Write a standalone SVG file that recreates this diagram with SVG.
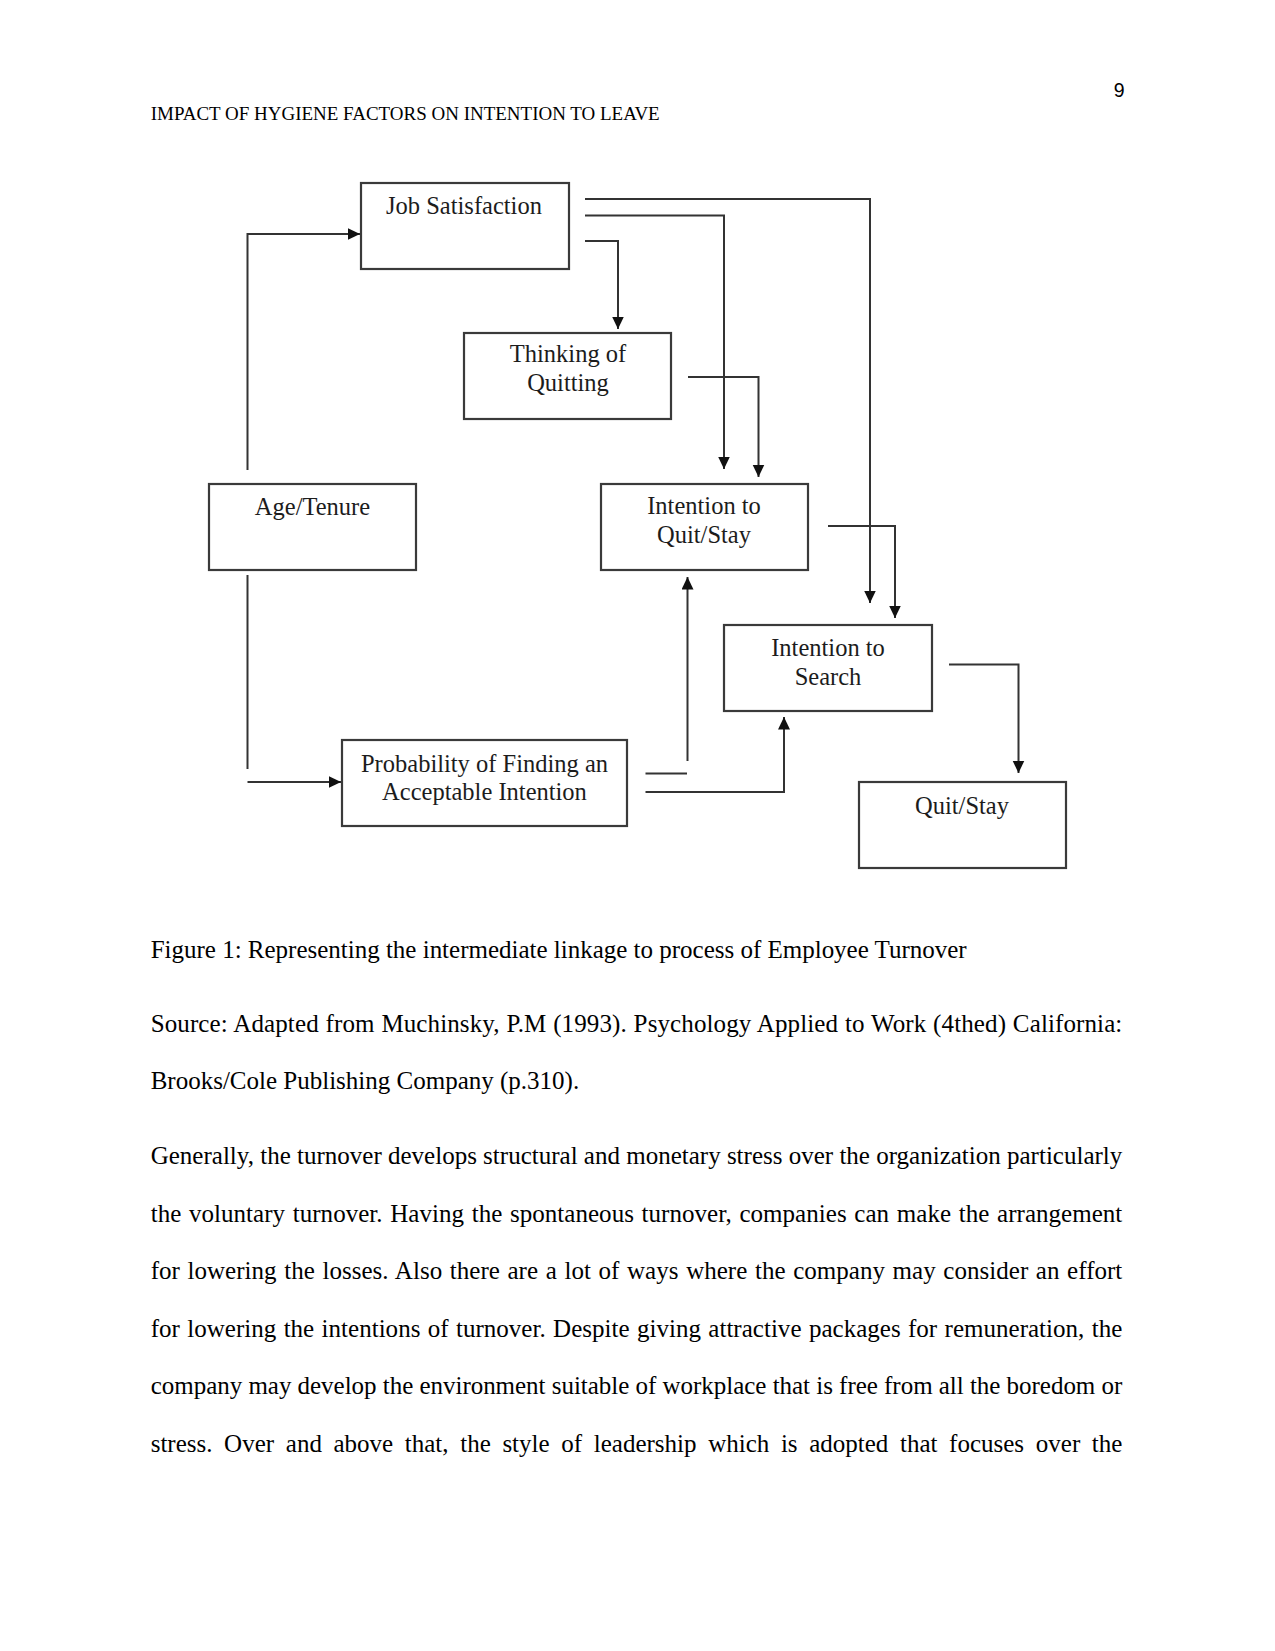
<svg xmlns="http://www.w3.org/2000/svg" width="1275" height="1651" viewBox="0 0 1275 1651">
<style>
.page{font-family:"Liberation Serif","Times New Roman",serif;fill:#000}
.body{font-size:25px}
.hdr{font-size:18.75px}
.pn{font-family:"Liberation Sans",Arial,sans-serif;font-size:19.5px;fill:#000}
.box{fill:#fff;stroke:#3a3a3a;stroke-width:2.2}
.lbl{font-family:"Liberation Serif","Times New Roman",serif;font-size:24.5px;fill:#1c1c1c;text-anchor:middle}
.con{fill:none;stroke:#333;stroke-width:2}
</style>
<defs>
<marker id="ah" markerUnits="userSpaceOnUse" markerWidth="14" markerHeight="13" refX="12.5" refY="6" orient="auto">
<path d="M0,0 L12.5,6 L0,12 z" fill="#111"/>
</marker>
</defs>
<rect x="0" y="0" width="1275" height="1651" fill="#fff"/>

<g id="page-header">
<text class="pn" x="1124.5" y="97" text-anchor="end">9</text>
<text class="page hdr" x="150.7" y="120" textLength="509" lengthAdjust="spacingAndGlyphs">IMPACT OF HYGIENE FACTORS ON INTENTION TO LEAVE</text>
</g>

<g id="connectors">
<polyline class="con" points="247.5,470 247.5,234 360,234" marker-end="url(#ah)"/>
<line class="con" x1="247.5" y1="575" x2="247.5" y2="769"/>
<line class="con" x1="247.5" y1="782" x2="341" y2="782" marker-end="url(#ah)"/>
<polyline class="con" points="585,241 618,241 618,329" marker-end="url(#ah)"/>
<polyline class="con" points="585,215.5 724,215.5 724,469" marker-end="url(#ah)"/>
<polyline class="con" points="585,199 870,199 870,603" marker-end="url(#ah)"/>
<polyline class="con" points="688,377 758.5,377 758.5,477" marker-end="url(#ah)"/>
<polyline class="con" points="828,526 895,526 895,618" marker-end="url(#ah)"/>
<line class="con" x1="687.5" y1="761" x2="687.5" y2="577" marker-end="url(#ah)"/>
<line class="con" x1="645.5" y1="773.5" x2="687" y2="773.5"/>
<polyline class="con" points="645.5,792 784,792 784,717" marker-end="url(#ah)"/>
<polyline class="con" points="949,664.5 1018.5,664.5 1018.5,773" marker-end="url(#ah)"/>
</g>

<g id="node-job-satisfaction">
<rect class="box" x="361" y="183" width="208" height="86"/>
<text class="lbl" x="464" y="214">Job Satisfaction</text>
</g>
<g id="node-thinking-of-quitting">
<rect class="box" x="464" y="333" width="207" height="86"/>
<text class="lbl" x="568" y="362">Thinking of</text>
<text class="lbl" x="568" y="390.5">Quitting</text>
</g>
<g id="node-age-tenure">
<rect class="box" x="209" y="484" width="207" height="86"/>
<text class="lbl" x="312.5" y="515">Age/Tenure</text>
</g>
<g id="node-intention-quit-stay">
<rect class="box" x="601" y="484" width="207" height="86"/>
<text class="lbl" x="704" y="514">Intention to</text>
<text class="lbl" x="704" y="542.5">Quit/Stay</text>
</g>
<g id="node-intention-search">
<rect class="box" x="724" y="625" width="208" height="86"/>
<text class="lbl" x="828" y="656">Intention to</text>
<text class="lbl" x="828" y="685">Search</text>
</g>
<g id="node-probability">
<rect class="box" x="342" y="740" width="285" height="86"/>
<text class="lbl" x="484.5" y="771.5">Probability of Finding an</text>
<text class="lbl" x="484.5" y="799.5">Acceptable Intention</text>
</g>
<g id="node-quit-stay">
<rect class="box" x="859" y="782" width="207" height="86"/>
<text class="lbl" x="962" y="814">Quit/Stay</text>
</g>

<g id="caption" class="page body">
<text x="150.7" y="958.3" textLength="816" lengthAdjust="spacing">Figure 1: Representing the intermediate linkage to process of Employee Turnover</text>
<text x="150.7" y="1031.7" word-spacing="0.45" textLength="971.6" lengthAdjust="spacing">Source: Adapted from Muchinsky, P.M (1993). Psychology Applied to Work (4thed) California:</text>
<text x="150.7" y="1089">Brooks/Cole Publishing Company (p.310).</text>
</g>

<g id="body-text" class="page body">
<text x="150.7" y="1164" textLength="971.6" lengthAdjust="spacing">Generally, the turnover develops structural and monetary stress over the organization particularly</text>
<text x="150.7" y="1221.7" word-spacing="1.4" textLength="971.6" lengthAdjust="spacing">the voluntary turnover. Having the spontaneous turnover, companies can make the arrangement</text>
<text x="150.7" y="1279" word-spacing="1.35" textLength="971.6" lengthAdjust="spacing">for lowering the losses. Also there are a lot of ways where the company may consider an effort</text>
<text x="150.7" y="1336.7" word-spacing="1.1" textLength="971.6" lengthAdjust="spacing">for lowering the intentions of turnover. Despite giving attractive packages for remuneration, the</text>
<text x="150.7" y="1394" textLength="971.6" lengthAdjust="spacing">company may develop the environment suitable of workplace that is free from all the boredom or</text>
<text y="1451.7"><tspan x="150.7">stress.</tspan><tspan x="224.1">Over</tspan><tspan x="285.8">and</tspan><tspan x="333.5">above</tspan><tspan x="404.8">that,</tspan><tspan x="460.2">the</tspan><tspan x="502.4">style</tspan><tspan x="561.3">of</tspan><tspan x="593.8">leadership</tspan><tspan x="708.2">which</tspan><tspan x="780.9">is</tspan><tspan x="809.2">adopted</tspan><tspan x="900">that</tspan><tspan x="949.1">focuses</tspan><tspan x="1035.8">over</tspan><tspan x="1091.8">the</tspan></text>
</g>
</svg>
